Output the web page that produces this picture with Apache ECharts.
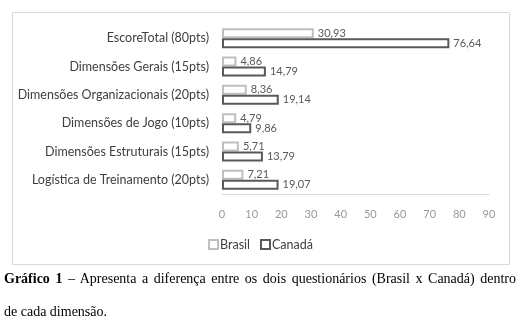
<!DOCTYPE html>
<html>
<head>
<meta charset="utf-8">
<script src="https://cdn.jsdelivr.net/npm/echarts@6/dist/echarts.min.js"></script>
<style>
  html, body { margin: 0; padding: 0; background: #fff; }
  #chart { position: absolute; left: 0; top: 0; width: 521px; height: 327px; }
  .cap { position: absolute; left: 4px; width: 512px; font-family: "Liberation Serif", "Times New Roman", serif; font-size: 14px; line-height: 32px; color: #000; white-space: nowrap; }
  #cap1 { top: 263px; text-align: justify; text-align-last: justify; white-space: normal; }
  #cap2 { top: 296px; }
</style>
</head>
<body>
<div id="chart"></div>
<div id="cap1" class="cap"><b>Gráfico 1</b> – Apresenta a diferença entre os dois questionários (Brasil x Canadá) dentro</div>
<div id="cap2" class="cap">de cada dimensão.</div>
<script>
const categories = [
  "EscoreTotal (80pts)",
  "Dimensões Gerais (15pts)",
  "Dimensões Organizacionais (20pts)",
  "Dimensões de Jogo (10pts)",
  "Dimensões Estruturais (15pts)",
  "Logística de Treinamento (20pts)"
];
const brasil = [30.93, 4.86, 8.36, 4.79, 5.71, 7.21];
const canada = [76.64, 14.79, 19.14, 9.86, 13.79, 19.07];
const xTicks = { min: 0, max: 90, interval: 10 };

const chart = echarts.init(document.getElementById('chart'));
const fmt = p => String(p.value).replace('.', ',');
chart.setOption({
  animation: false,
  textStyle: { fontFamily: 'Lato, "Open Sans", sans-serif' },
  graphic: [{
    type: 'rect', left: 10, top: 10, shape: { width: 497, height: 252 },
    style: { fill: 'none', stroke: '#d9d9d9', lineWidth: 1 }, silent: true
  }],
  grid: { left: 222, right: 32, top: 24, height: 170, containLabel: false },
  xAxis: {
    type: 'value', min: xTicks.min, max: xTicks.max, interval: xTicks.interval,
    axisLine: { show: true, lineStyle: { color: '#d9d9d9' } },
    axisTick: { show: false },
    splitLine: { show: false },
    axisLabel: { color: '#999999', fontSize: 11, margin: 15 }
  },
  yAxis: {
    type: 'category', inverse: true, data: categories,
    axisLine: { show: false }, axisTick: { show: false },
    axisLabel: { color: '#404040', fontSize: 12.5, margin: 13 }
  },
  legend: {
    bottom: 71, left: 'center', itemWidth: 9, itemHeight: 9, itemGap: 10,
    icon: 'rect',
    textStyle: { color: '#404040', fontSize: 12.5, padding: [0, 0, 0, -3] },
    data: ['Brasil', 'Canadá']
  },
  series: [
    {
      name: 'Brasil', type: 'bar', data: brasil, barWidth: 10, barGap: '0%',
      itemStyle: { color: '#ffffff', borderColor: '#bfbfbf', borderWidth: 2 },
      label: { show: true, position: 'right', distance: 4, color: '#595959', fontSize: 11, formatter: fmt }
    },
    {
      name: 'Canadá', type: 'bar', data: canada, barWidth: 10,
      itemStyle: { color: '#ffffff', borderColor: '#595959', borderWidth: 2 },
      label: { show: true, position: 'right', distance: 4, color: '#595959', fontSize: 11, formatter: fmt }
    }
  ]
});
</script>
</body>
</html>
